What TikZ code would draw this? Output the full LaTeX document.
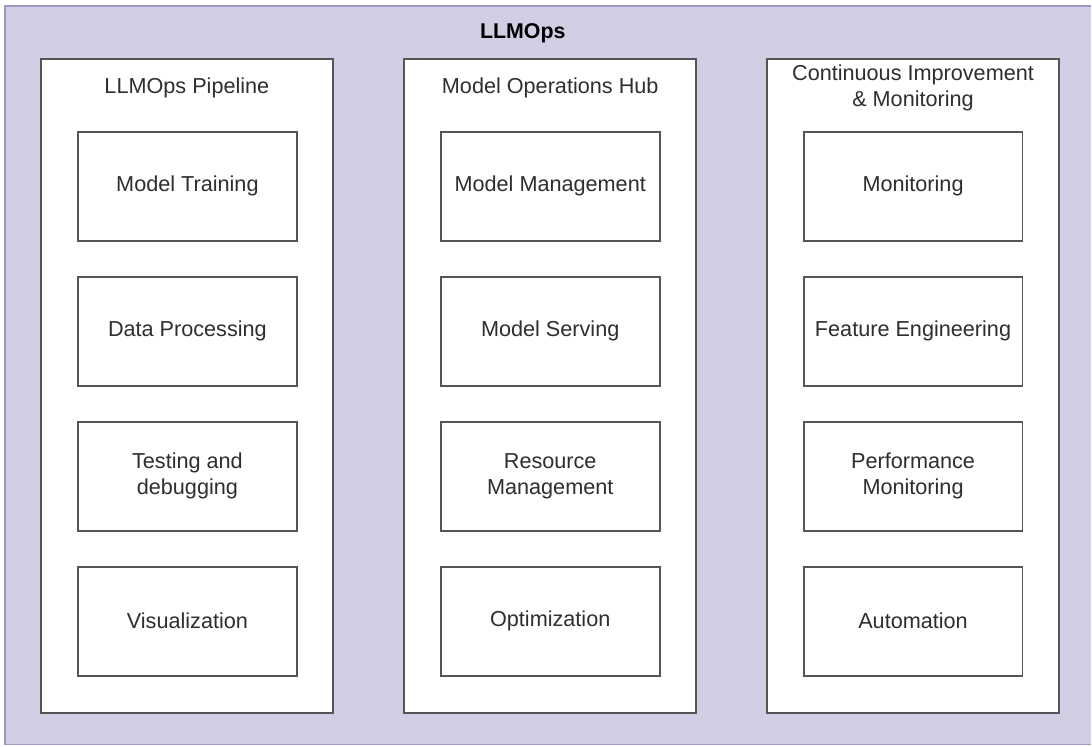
\documentclass[tikz,border=0pt]{standalone}
\usepackage{fontspec}
\setmainfont{Liberation Sans}
\usetikzlibrary{positioning}
\definecolor{opsbg}{HTML}{D0CFE4}
\definecolor{opsedge}{HTML}{9C9AC2}
\definecolor{boxedge}{HTML}{555555}
\definecolor{boxtext}{HTML}{2E2E2E}

\begin{document}
\begin{tikzpicture}[x=0.025cm,y=-0.025cm,
	colbox/.style={draw=boxedge,line width=1.4pt,fill=white,minimum width=7.3cm,minimum height=16.35cm,inner sep=0pt},
	item/.style={draw=boxedge,line width=1.4pt,fill=white,minimum width=5.475cm,minimum height=2.725cm,inner sep=2pt,align=center,text=boxtext,font=\fontsize{15.4}{18.5}\selectfont},
	coltitle/.style={align=center,text=boxtext,font=\fontsize{15.4}{18.5}\selectfont},
	node distance=0.85cm]
	% page and outer frame
	\fill[white] (0,0) rectangle (1092,747);
	\fill[opsbg] (5,6) rectangle (1092,745);
	\draw[opsedge,line width=0.8pt] (1092,6) -- (5,6) -- (5,745) -- (1092,745);
	\node[font=\bfseries\fontsize{15.2}{18}\selectfont,text=black] (ops) at (523,33) {LLMOps};

	% columns
	\node[colbox] (pipe) at (187,386) {};
	\node[colbox] (hub) at (550.5,386) {};
	\node[colbox] (cim) at (913.5,386) {};

	\node[coltitle] (pipetitle) at (187,88) {LLMOps Pipeline};
	\node[coltitle] (hubtitle) at (550.5,88) {Model Operations Hub};
	\node[coltitle] (cimtitle) at (913.5,88) {Continuous Improvement\\\& Monitoring};

	% LLMOps Pipeline
	\node[item] (train) at (187.5,186.5) {Model Training};
	\node[item,below=of train] (data) {Data Processing};
	\node[item,below=of data] (test) {Testing and\\debugging};
	\node[item,below=of test] (vis) {Visualization};

	% Model Operations Hub
	\node[item] (mgmt) at (550.5,186.5) {Model Management};
	\node[item,below=of mgmt] (serve) {Model Serving};
	\node[item,below=of serve] (res) {Resource\\Management};
	\node[item,below=of res] (opt) {Optimization};

	% Continuous Improvement & Monitoring
	\node[item] (mon) at (913.5,186.5) {Monitoring};
	\node[item,below=of mon] (feat) {Feature Engineering};
	\node[item,below=of feat] (perf) {Performance\\Monitoring};
	\node[item,below=of perf] (auto) {Automation};
\end{tikzpicture}
\end{document}
